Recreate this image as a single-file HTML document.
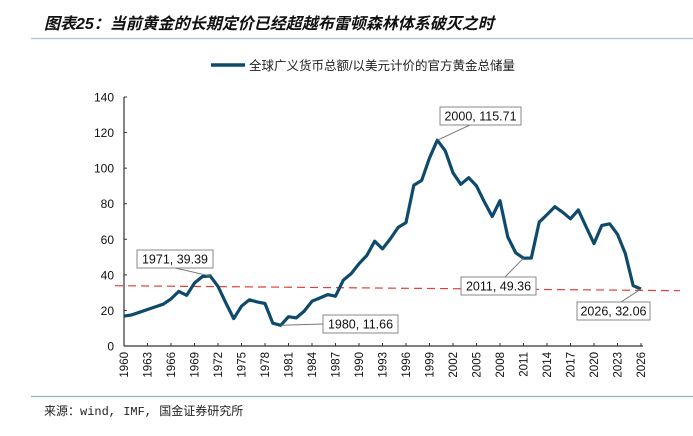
<!DOCTYPE html>
<html><head><meta charset="utf-8"><style>
body{margin:0;background:#fff;width:693px;height:431px;overflow:hidden;font-family:"Liberation Sans","Noto Sans CJK SC",sans-serif;}
</style></head><body>
<svg width="693" height="431" xmlns="http://www.w3.org/2000/svg">
<text x="44" y="29" font-size="16" font-weight="bold" font-style="italic" fill="#111" font-family="Liberation Sans, Noto Sans CJK SC, sans-serif">图表25：当前黄金的长期定价已经超越布雷顿森林体系破灭之时</text>
<line x1="31" y1="38.5" x2="693" y2="38.5" stroke="#b7c9d6" stroke-width="1.5"/>
<g>
<line x1="211" y1="65" x2="245" y2="65" stroke="#0e4a6b" stroke-width="3.5"/>
<text x="249" y="70" font-size="12.5" fill="#222" font-family="Liberation Sans, Noto Sans CJK SC, sans-serif">全球广义货币总额/以美元计价的官方黄金总储量</text>
</g>
<g id="axes"></g>
<g id="plot"></g>
<line x1="31" y1="396.5" x2="693" y2="396.5" stroke="#8fb5c6" stroke-width="1.2"/>
<text x="44" y="415" font-size="12" fill="#222" font-family="Liberation Mono, Noto Sans CJK SC, monospace">来源：wind, IMF, 国金证券研究所</text>
</svg>
<script>
const years=[];for(let y=1960;y<=2026;y++)years.push(y);
const values=[16.8,17.5,19,20.5,22,23.5,26.5,30.7,28.5,35.4,39,39.39,33.5,24.3,15.4,22.4,26,24.8,23.9,12.8,11.66,16.5,15.8,19.6,25.2,27,28.9,28,37,40.7,46.3,50.9,58.9,54.6,60.2,66.7,69.4,90.4,93.1,105.7,115.71,109.8,97.4,90.9,94.6,90,81.1,72.8,81.7,61.3,52.4,49.36,49.5,69.6,73.9,78.3,75.2,71.5,76.5,66.9,57.6,67.8,68.7,62.8,52,33.9,32.06];
const yTicks=[0,20,40,60,80,100,120,140];
const xTickYears=[];for(let y=1960;y<=2026;y+=3)xTickYears.push(y);
const refLine=[33.9,31.1];
const annotations=[
 {year:1971,label:"1971, 39.39",bx:137,by:250,bw:76,ax:175,ay:268},
 {year:1980,label:"1980, 11.66",bx:323,by:315,bw:75,ax:323,ay:324},
 {year:2000,label:"2000, 115.71",bx:440,by:107,bw:81,ax:470,ay:125},
 {year:2011,label:"2011, 49.36",bx:461,by:277,bw:75,ax:505,ay:277},
 {year:2026,label:"2026, 32.06",bx:577,by:302,bw:73,ax:621,ay:302}
];
const NS="http://www.w3.org/2000/svg";
const X0=124,X1=641,Y0=346,Y1=97;
const xs=y=>X0+(y-1960)/(2026-1960)*(X1-X0);
const ys=v=>Y0-v/140*(Y0-Y1);
function mk(t,a,p){const e=document.createElementNS(NS,t);for(const k in a)e.setAttribute(k,a[k]);p.appendChild(e);return e;}
const axes=document.getElementById('axes'),plot=document.getElementById('plot');
let e=mk('line',{x1:X0,y1:Y1,x2:X0,y2:Y0,stroke:'#333','stroke-width':1.2},axes);


e=mk('line',{x1:X0,y1:Y0,x2:X1+2,y2:Y0,stroke:'#333','stroke-width':1.2},axes);


yTicks.forEach(v=>{
 const t=mk('line',{x1:X0,y1:ys(v),x2:X0+3,y2:ys(v),stroke:'#333'},axes);
 
 
 const l=mk('text',{x:114,y:ys(v)+4.5,'text-anchor':'end','font-size':12,fill:'#111'},axes);
 l.textContent=v;
 
 
});
xTickYears.forEach(y=>{
 const t=mk('line',{x1:xs(y),y1:Y0,x2:xs(y),y2:Y0-3,stroke:'#333'},axes);
 
 
 const l=mk('text',{x:0,y:0,'text-anchor':'end','font-size':11.5,fill:'#111',transform:`translate(${xs(y)+4},352) rotate(-90)`},axes);
 l.textContent=y;
 
 
});
const rl=mk('line',{x1:115,y1:ys(refLine[0]),x2:680,y2:ys(refLine[1]),stroke:'#e0403a','stroke-width':1.2,'stroke-dasharray':'8,5'},plot);


const d=values.map((v,i)=>(i?'L':'M')+xs(years[i]).toFixed(1)+','+ys(v).toFixed(1)).join('');
const ln=mk('path',{d:d,fill:'none',stroke:'#0e4a6b','stroke-width':3.2,'stroke-linejoin':'round'},plot);


annotations.forEach(a=>{
 const px=xs(a.year),py=ys(values[years.indexOf(a.year)]);
 const g=mk('g',{},plot);
 
 
 mk('polyline',{points:`${a.ax},${a.ay} ${px},${py}`,fill:'none',stroke:'#777','stroke-width':1},g);
 mk('rect',{x:a.bx,y:a.by,width:a.bw,height:18,fill:'#fff',stroke:'#888','stroke-width':1},g);
 const t=mk('text',{x:a.bx+a.bw/2,y:a.by+13.5,'text-anchor':'middle','font-size':12.5,fill:'#111'},g);
 t.textContent=a.label;
});
</script>
</body></html>
